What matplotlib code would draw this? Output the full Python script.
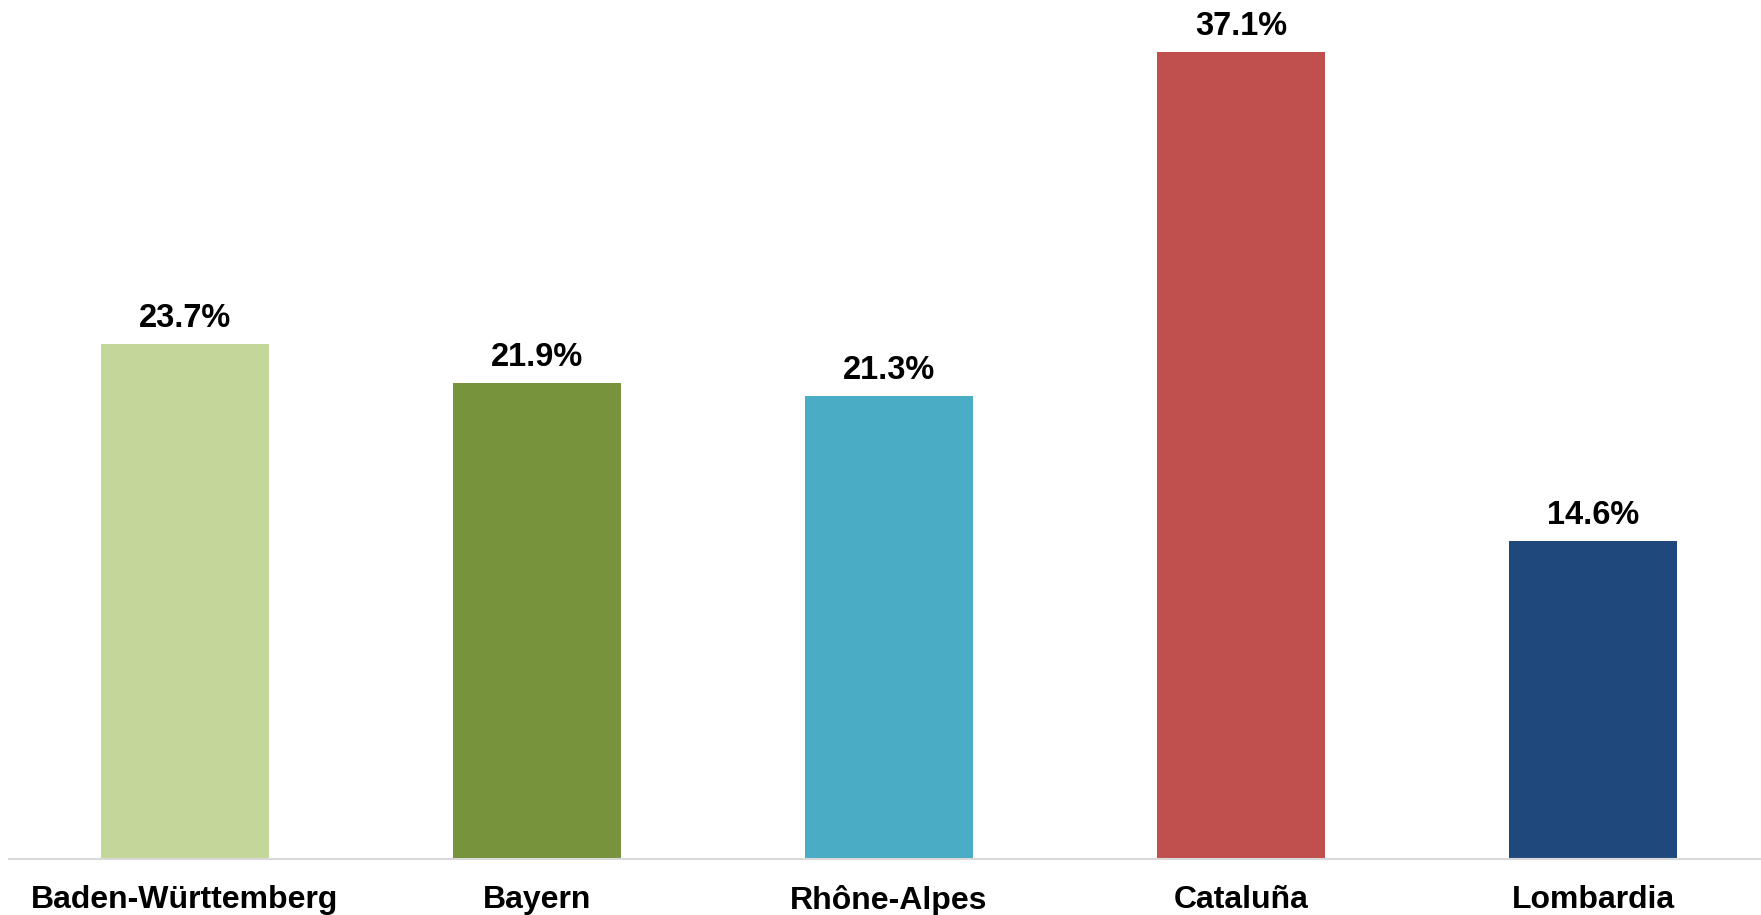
import matplotlib
matplotlib.use("Agg")
import matplotlib.pyplot as plt

categories = ["Baden-Württemberg", "Bayern", "Rhône-Alpes", "Cataluña", "Lombardia"]
values = [23.7, 21.9, 21.3, 37.1, 14.6]
colors = ["#C4D79B", "#77933C", "#4BACC6", "#C0504D", "#1F497D"]

plt.rcParams['font.family'] = ['Liberation Sans', 'DejaVu Sans']

fig = plt.figure(figsize=(17.61, 9.15), dpi=100)
ax = fig.add_axes([9/1761, (915-859)/915, 1760/1761, 859/915])

x = list(range(len(categories)))
bars = ax.bar(x, values, width=0.48, color=colors, zorder=2)
ax.set_xlim(-0.5, len(categories) - 0.5)
ax.set_ylim(0, 39.5)

for xi, v in zip(x, values):
    ax.annotate(f"{v:.1f}%", (xi, v), xytext=(0, 10), textcoords="offset pixels",
                ha="center", va="bottom", fontsize=23.5, fontweight="bold", color="black")

ax.set_xticks(x)
ax.set_xticklabels(categories, fontsize=23, fontweight="bold")
ax.tick_params(axis="x", length=0, pad=19)
ax.set_yticks([])
for s in ["top", "right", "left"]:
    ax.spines[s].set_visible(False)
ax.spines["bottom"].set_color("#D9D9D9")
ax.spines["bottom"].set_linewidth(1.5)

fig.savefig("out.png", dpi=100)
